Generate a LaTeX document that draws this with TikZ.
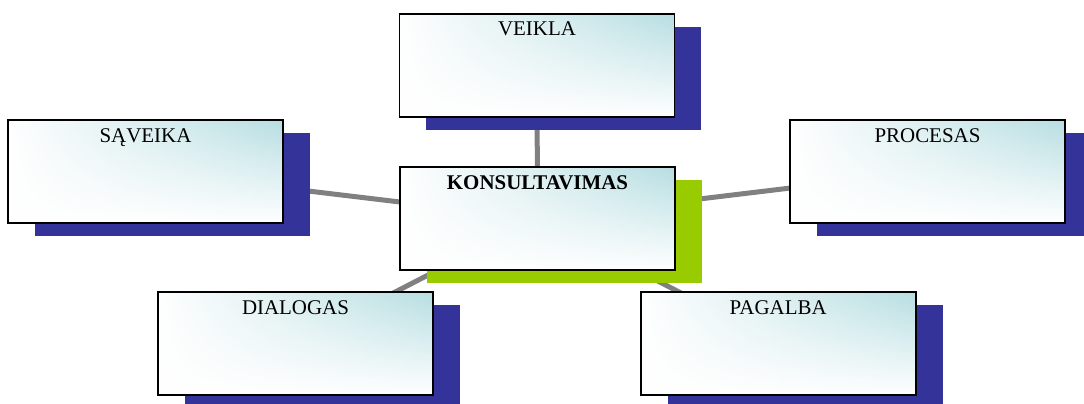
\documentclass[tikz,border=0pt]{standalone}
\usepackage{fontspec}
\setmainfont{Liberation Serif}
\usetikzlibrary{shadows,fadings,backgrounds}
\definecolor{melyna}{RGB}{51,51,153}
\definecolor{zalia}{RGB}{153,204,0}
\definecolor{zydra}{RGB}{183,222,226}
\tikzset{
  tema/.style={draw, line width=1.3pt, minimum width=206.25pt, minimum height=77.25pt,
    inner ysep=5.6pt, text height=11pt, text depth=55pt,
    font=\fontsize{15.7pt}{18pt}\selectfont,
    general shadow={fill=#1, shadow xshift=20.25pt, shadow yshift=-9.75pt},
    preaction={fill=white},
    preaction={top color=zydra, bottom color=white, path fading=west}},
  tema/.default=melyna,
  jungtis/.style={draw=gray, line width=3.75pt}
}
\begin{document}
\begin{tikzpicture}[node distance=115pt]
  \useasboundingbox (-403.125pt,-138.375pt) rectangle (409.875pt,163.875pt);
  \node[tema=zalia] (konsult) {\textbf{KONSULTAVIMAS}};
  \node[tema,above of=konsult,xshift=-0.4pt] (veikla) {VEIKLA};
  \node[tema,left of=konsult,xshift=-179pt,yshift=35.25pt] (saveika) {SĄVEIKA};
  \node[tema,right of=konsult,xshift=177.5pt,yshift=35.25pt] (procesas) {PROCESAS};
  \node[tema,below of=konsult,xshift=-181.5pt,yshift=21.25pt] (dialogas) {DIALOGAS};
  \node[tema,below of=konsult,xshift=180.5pt,yshift=21.25pt] (pagalba) {PAGALBA};

  % jungtys uz staciakampiu
  \begin{pgfonlayer}{background}
    \foreach \n in {veikla,saveika,procesas,dialogas,pagalba}
      \draw[jungtis] (konsult.center) -- (\n.center);
  \end{pgfonlayer}
\end{tikzpicture}
\end{document}
